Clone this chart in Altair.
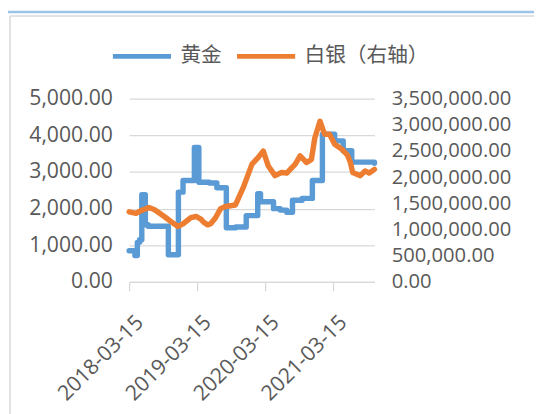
import altair as alt
import pandas as pd

# ---- data ----
gold_dates = [
    "2018-03-15", "2018-04-15", "2018-04-28", "2018-05-10", "2018-05-22",
    "2018-06-10", "2018-06-25", "2018-10-12", "2018-12-05", "2018-12-30",
    "2019-03-01", "2019-03-25", "2019-05-20", "2019-06-30", "2019-08-20",
    "2019-10-10", "2019-12-05", "2020-02-05", "2020-02-20", "2020-04-30",
    "2020-06-05", "2020-07-10", "2020-08-10", "2020-10-01", "2020-11-25",
    "2021-01-18", "2021-03-25", "2021-05-10", "2021-06-25", "2021-10-25",
]
gold_values = [
    850, 720, 1080, 1150, 2380,
    1560, 1520, 740, 2450, 2770,
    3670, 2720, 2700, 2570, 1480,
    1500, 1810, 2410, 2190, 2000,
    1960, 1900, 2230, 2280, 2770,
    4030, 3850, 3580, 3270, 3240,
]

silver_dates = [
    "2018-03-15", "2018-04-21", "2018-05-17", "2018-06-30", "2018-07-30",
    "2018-09-20", "2018-10-27", "2018-12-03", "2018-12-30", "2019-02-10",
    "2019-03-10", "2019-04-05", "2019-04-20", "2019-05-12", "2019-05-28",
    "2019-06-22", "2019-07-20", "2019-08-15", "2019-10-08", "2019-11-20",
    "2020-01-05", "2020-02-08", "2020-03-06", "2020-04-01", "2020-05-08",
    "2020-06-12", "2020-07-10", "2020-08-25", "2020-09-20", "2020-10-25",
    "2020-11-20", "2020-12-08", "2021-01-05", "2021-01-30", "2021-02-25",
    "2021-03-25", "2021-05-01", "2021-06-02", "2021-06-18", "2021-06-30",
    "2021-08-10", "2021-09-05", "2021-09-27", "2021-10-25",
]
silver_values = [
    1340000, 1310000, 1360000, 1420000, 1380000,
    1250000, 1150000, 1060000, 1110000, 1230000,
    1250000, 1200000, 1140000, 1090000, 1110000,
    1220000, 1400000, 1440000, 1470000, 1810000,
    2250000, 2380000, 2500000, 2220000, 2030000,
    2090000, 2080000, 2250000, 2410000, 2280000,
    2340000, 2750000, 3070000, 2820000, 2820000,
    2630000, 2540000, 2420000, 2280000, 2090000,
    2030000, 2120000, 2080000, 2150000,
]

series_names = ["黄金", "白银（右轴）"]
series_colors = ["#5B9BD5", "#ED7D31"]

x_ticks = ["2018-03-15", "2019-03-15", "2020-03-15", "2021-03-15"]
left_ticks = [0, 1000, 2000, 3000, 4000, 5000]
right_ticks = [0, 500000, 1000000, 1500000, 2000000, 2500000, 3000000, 3500000]

gold_df = pd.DataFrame({"date": gold_dates, "value": gold_values, "series": series_names[0]})
silver_df = pd.DataFrame({"date": silver_dates, "value": silver_values, "series": series_names[1]})


def dt(s):
    y, m, d = (int(p) for p in s.split("-"))
    return alt.DateTime(year=y, month=m, date=d, utc=True)


FONT = "Open Sans"
CJK = "Noto Sans CJK SC"
GRAY = "#595959"
GRID = "#d9d9d9"
LABEL_SIZE = 21.5
RIGHT_LABEL_SIZE = 20.5
LINE_W = 5.5

x_enc = alt.X(
    "date:T",
    scale=alt.Scale(type="utc", domain=[dt("2018-03-15"), dt("2021-10-25")]),
    axis=alt.Axis(
        title=None,
        values=[dt(s) for s in x_ticks],
        format="%Y-%m-%d",
        labelAngle=-45,
        labelAlign="right",
        labelBaseline="top",
        labelFont=FONT,
        labelFontSize=LABEL_SIZE,
        labelColor=GRAY,
        labelPadding=21,
        labelOffset=3,
        tickSize=9,
        tickColor=GRID,
        tickWidth=1.3,
        domainColor=GRID,
        domainWidth=1.3,
        grid=False,
        labelOverlap=False,
    ),
)

color_enc = alt.Color(
    "series:N",
    scale=alt.Scale(domain=series_names, range=series_colors),
    legend=alt.Legend(
        title=None,
        orient="none",
        direction="horizontal",
        legendX=-19,
        legendY=-75,
        symbolType="stroke",
        symbolSize=3481,
        symbolStrokeWidth=5,
        labelFont=CJK,
        labelFontSize=21,
        labelColor=GRAY,
        labelOffset=7,
        columnPadding=5,
        padding=0,
    ),
)

gold = (
    alt.Chart(gold_df)
    .mark_line(interpolate="step-after", strokeWidth=LINE_W, strokeJoin="round", strokeCap="round")
    .encode(
        x=x_enc,
        y=alt.Y(
            "value:Q",
            scale=alt.Scale(domain=[0, 5000], nice=False),
            axis=alt.Axis(
                title=None,
                orient="left",
                values=left_ticks,
                format=",.2f",
                labelFont=FONT,
                labelFontSize=LABEL_SIZE,
                labelColor=GRAY,
                labelPadding=17,
                ticks=False,
                domain=False,
                grid=True,
                gridColor=GRID,
                gridWidth=1.3,
            ),
        ),
        color=color_enc,
    )
)

silver = (
    alt.Chart(silver_df)
    .mark_line(strokeWidth=LINE_W, strokeJoin="round", strokeCap="round")
    .encode(
        x=x_enc,
        y=alt.Y(
            "value:Q",
            scale=alt.Scale(domain=[0, 3500000], nice=False),
            axis=alt.Axis(
                title=None,
                orient="right",
                values=right_ticks,
                format=",.2f",
                labelFont=FONT,
                labelFontSize=RIGHT_LABEL_SIZE,
                labelColor=GRAY,
                labelPadding=17,
                ticks=False,
                domain=False,
                grid=False,
            ),
        ),
        color=color_enc,
    )
)

frame_df = pd.DataFrame({"k": [0]})
frame_left = alt.Chart(frame_df).mark_rule(color=GRID, strokeWidth=1.5).encode(
    x=alt.value(-121), y=alt.value(-84), y2=alt.value(330)
)
frame_top = alt.Chart(frame_df).mark_rule(color=GRID, strokeWidth=1.5).encode(
    x=alt.value(-121), x2=alt.value(420), y=alt.value(-84)
)
top_band = alt.Chart(frame_df).mark_rule(color="#9DC3E6", strokeWidth=2.5).encode(
    x=alt.value(-140), x2=alt.value(420), y=alt.value(-88)
)

chart = (
    alt.layer(gold, silver, frame_left, frame_top, top_band)
    .resolve_scale(y="independent")
    .properties(
        width=249,
        height=186,
        autosize=alt.AutoSizeParams(type="none"),
        padding={"left": 123, "top": 89, "right": 162, "bottom": 131},
        background="white",
    )
    .configure_view(stroke=None)
)

chart.save("out.html", embed_options={"renderer": "svg", "actions": False})
